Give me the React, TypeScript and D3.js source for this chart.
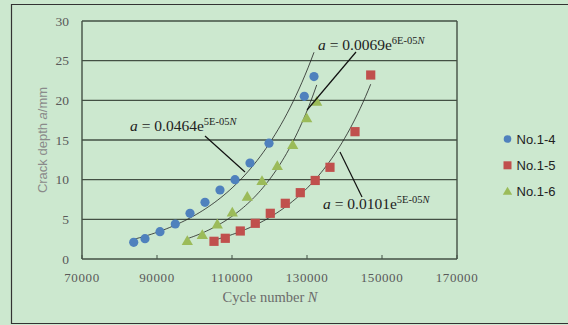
import * as d3 from 'd3'

// Cycle number N and crack depth a (mm) per specimen
const n14 = [83790, 86800, 90800, 94880, 98800, 102800, 106800, 110800, 114800, 119870, 129280, 131870]
const a14 = [2.1, 2.56, 3.44, 4.41, 5.76, 7.15, 8.7, 10.0, 12.1, 14.6, 20.5, 23.0]

const n15 = [105200, 108210, 112210, 116210, 120210, 124210, 128210, 132190, 136130, 142800, 146990]
const a15 = [2.23, 2.61, 3.53, 4.5, 5.76, 7.02, 8.36, 9.9, 11.56, 16.05, 23.19]

const n16 = [98080, 102080, 106080, 110080, 114080, 118000, 122080, 126190, 129920, 132590]
const a16 = [2.27, 3.03, 4.37, 5.86, 7.85, 9.83, 11.72, 14.37, 17.74, 19.83]

const xTicks = [70000, 90000, 110000, 130000, 150000, 170000]
const yTicks = [0, 5, 10, 15, 20, 25, 30]

const seriesNames = ['No.1-4', 'No.1-5', 'No.1-6']

const W = 568
const H = 325
const BG = '#cce8cf'
const BLUE = '#4f81bd'
const RED = '#c0504d'
const GREEN = '#9bbb59'
const GRID = '#435044'

// exponential trendline (least squares on ln a), like Excel
function fitExp(xs: number[], ys: number[]) {
  const ly = ys.map(Math.log)
  const mx = d3.mean(xs)!
  const my = d3.mean(ly)!
  const sxy = d3.sum(xs, (x, i) => (x - mx) * (ly[i] - my))
  const sxx = d3.sum(xs, x => (x - mx) * (x - mx))
  const b = sxy / sxx
  return { A: Math.exp(my - b * mx), b }
}

const x = d3.scaleLinear().domain([70000, 170000]).range([82, 457])
const y = d3.scaleLinear().domain([0, 30]).range([259, 21])

function trendPath(xs: number[], ys: number[]) {
  const { A, b } = fitExp(xs, ys)
  const lo = d3.min(xs)!
  const hi = d3.max(xs)!
  const pts = d3.range(0, 61).map(i => {
    const n = lo + ((hi - lo) * i) / 60
    return [n, A * Math.exp(b * n)] as [number, number]
  })
  return d3
    .line<[number, number]>()
    .x(d => x(d[0]))
    .y(d => y(d[1]))
    .curve(d3.curveMonotoneX)(pts)!
}

const triangle = d3.symbol(d3.symbolTriangle, 55)()!

const serif = '"Liberation Serif", "Times New Roman", serif'
const sans = '"Liberation Sans", Arial, sans-serif'

function Eq({ tx, ty, coef, exp }: { tx: number; ty: number; coef: string; exp: string }) {
  return (
    <text x={tx} y={ty} fontFamily={serif} fontSize={15.5} fill="#222">
      <tspan fontStyle="italic">a</tspan>
      <tspan> = {coef}e</tspan>
      <tspan fontSize={10.5} dy={-6.5}>
        {exp}
        <tspan fontStyle="italic">N</tspan>
      </tspan>
    </text>
  )
}

export default function App() {
  return (
    <svg
      width={W}
      height={H}
      style={{ position: 'absolute', left: 0, top: 0, display: 'block' }}
    >
      <rect x={0} y={0} width={W} height={H} fill={BG} />
      <path d={`M${W},4.5H11.5V323.5H${W}`} fill="none" stroke="#333" strokeWidth={1.2} />

      {/* gridlines */}
      {yTicks.map(t => (
        <line key={t} x1={x(70000)} x2={x(170000)} y1={y(t)} y2={y(t)} stroke={GRID} strokeWidth={1.4} />
      ))}
      <line x1={x(70000)} x2={x(70000)} y1={y(30)} y2={y(0)} stroke={GRID} strokeWidth={1.4} />
      <line x1={x(170000)} x2={x(170000)} y1={y(30)} y2={y(0)} stroke={GRID} strokeWidth={1.4} />
      {xTicks.map(t => (
        <line key={t} x1={x(t)} x2={x(t)} y1={y(0)} y2={y(0) - 4} stroke={GRID} strokeWidth={1} />
      ))}

      {/* tick labels */}
      {yTicks.map(t => (
        <text key={t} x={69} y={y(t)} dy="0.35em" textAnchor="end" fontFamily={serif} fontSize={13.5} fill="#595959">
          {t}
        </text>
      ))}
      {xTicks.map(t => (
        <text key={t} x={x(t)} y={277} dy="0.35em" textAnchor="middle" fontFamily={serif} fontSize={13} fill="#595959" letterSpacing={0.6}>
          {t}
        </text>
      ))}

      {/* axis titles */}
      <text
        transform="translate(42,140) rotate(-90)"
        textAnchor="middle"
        dy="0.35em"
        fontFamily={sans}
        fontSize={13}
        fill="#8a8a8a"
      >
        Crack depth <tspan fontStyle="italic">a</tspan>/mm
      </text>
      <text x={270} y={297} dy="0.35em" textAnchor="middle" fontFamily={serif} fontSize={14.5} fill="#6b6b6b">
        Cycle number <tspan fontStyle="italic">N</tspan>
      </text>

      {/* trendlines */}
      <path d={trendPath(n14, a14)} fill="none" stroke="#222" strokeWidth={0.8} />
      <path d={trendPath(n15, a15)} fill="none" stroke="#222" strokeWidth={0.8} />
      <path d={trendPath(n16, a16)} fill="none" stroke="#222" strokeWidth={0.8} />

      {/* markers */}
      {n14.map((n, i) => (
        <circle key={i} cx={x(n)} cy={y(a14[i])} r={4.6} fill={BLUE} />
      ))}
      {n15.map((n, i) => (
        <rect key={i} x={x(n) - 4.6} y={y(a15[i]) - 4.6} width={9.2} height={9.2} fill={RED} />
      ))}
      {n16.map((n, i) => (
        <path key={i} d={triangle} transform={`translate(${x(n)},${y(a16[i]) + 0.8})`} fill={GREEN} />
      ))}

      {/* equation labels with leader lines */}
      <line x1={356} y1={52} x2={307} y2={110} stroke="#111" strokeWidth={1.2} />
      <Eq tx={318} ty={50} coef="0.0069" exp="6E-05" />
      <line x1={205} y1={136} x2={245} y2={172} stroke="#111" strokeWidth={1.2} />
      <Eq tx={130} ty={131} coef="0.0464" exp="5E-05" />
      <line x1={340} y1={152} x2={362} y2={197} stroke="#111" strokeWidth={1.2} />
      <Eq tx={323} ty={209} coef="0.0101" exp="5E-05" />

      {/* legend */}
      {seriesNames.map((s, i) => {
        const ly = 139 + i * 26.3
        return (
          <g key={s}>
            {i === 0 && <circle cx={507.5} cy={ly} r={3.8} fill={BLUE} />}
            {i === 1 && <rect x={503.5} y={ly - 4} width={8} height={8} fill={RED} />}
            {i === 2 && <path d={d3.symbol(d3.symbolTriangle, 38)()!} transform={`translate(507.5,${ly + 0.5})`} fill={GREEN} />}
            <text x={516.5} y={ly} dy="0.35em" fontFamily={sans} fontSize={13} fill="#222">
              {s}
            </text>
          </g>
        )
      })}
    </svg>
  )
}
